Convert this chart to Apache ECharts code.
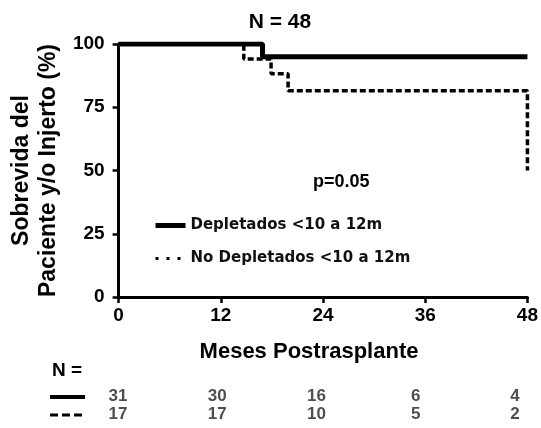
<!DOCTYPE html>
<html lang="es">
<head>
    <meta charset="UTF-8">
    <title>Sobrevida del Paciente y/o Injerto</title>
    <script src="https://cdn.jsdelivr.net/npm/echarts@6/dist/echarts.min.js"></script>
    <style>
        html, body, #main {
            width: 541px;
            height: 428px;
            padding: 0;
            margin: 0;
            background: #fff;
        }
    </style>
</head>
<body>
<div id="main"></div>
<script>
    // Kaplan-Meier steps: [months, % survival]
    var depletados = [[0, 100], [16.9, 100], [16.9, 95], [48, 95]];
    var noDepletados = [[0, 100], [14.7, 100], [14.7, 94.1], [17.9, 94.1], [17.9, 88.2],
        [19.9, 88.2], [19.9, 81.5], [48, 81.5], [48, 50]];

    var seriesNames = ["Depletados <10 a 12m", "No Depletados <10 a 12m"];
    var riskMonths = [0, 12, 24, 36, 48];
    var riskDepletados = [31, 30, 16, 6, 4];
    var riskNoDepletados = [17, 17, 10, 5, 2];

    var font = "Liberation Sans, Arial, sans-serif";

    var riskData = [];
    riskMonths.forEach(function (m, i) {
        riskData.push([m, 0, riskDepletados[i]]);
        riskData.push([m, 1, riskNoDepletados[i]]);
    });

    var myChart = echarts.init(document.getElementById("main"));
    myChart.setOption({
        animation: false,
        title: {
            text: "N = 48",
            left: 275,
            top: 7,
            textAlign: "center",
            textStyle: {fontFamily: font, fontSize: 21, fontWeight: "bold", color: "#000"}
        },
        legend: {
            orient: "vertical",
            left: 153,
            top: 218,
            padding: 0,
            itemWidth: 30,
            itemHeight: 14,
            itemGap: 18,
            textStyle: {fontFamily: "DejaVu Sans", fontSize: 15, fontWeight: "bold", color: "#111"},
            data: [{
                name: seriesNames[0],
                itemStyle: {opacity: 0},
                lineStyle: {width: 5, color: "#000", type: "solid"}
            }, {
                name: seriesNames[1],
                itemStyle: {opacity: 0},
                lineStyle: {width: 3, color: "#000", type: [3, 8]}
            }]
        },
        grid: [{
            left: 117, right: 13, top: 44, bottom: 131
        }, {
            left: 118, right: 26, top: 388, height: 35
        }],
        xAxis: [{
            type: "value",
            min: 0, max: 48, interval: 12,
            name: "Meses Postrasplante",
            nameLocation: "middle",
            nameGap: 44,
            nameTextStyle: {fontFamily: font, fontSize: 22, fontWeight: "bold", color: "#000", padding: [0, 28, 0, 0]},
            splitLine: {show: false},
            axisLine: {lineStyle: {color: "#000", width: 3}},
            axisTick: {length: 6, lineStyle: {width: 2.5}},
            axisLabel: {fontFamily: font, fontSize: 19, fontWeight: "bold", color: "#000", margin: 9}
        }, {
            gridIndex: 1,
            type: "value",
            min: 0, max: 48,
            show: false
        }],
        yAxis: [{
            type: "value",
            min: 0, max: 100, interval: 25,
            name: "Sobrevida del\nPaciente y/o Injerto (%)",
            nameLocation: "middle",
            nameRotate: 90,
            nameGap: 51,
            nameTextStyle: {fontFamily: font, fontSize: 23, fontWeight: "bold", color: "#000", lineHeight: 27},
            splitLine: {show: false},
            axisLine: {lineStyle: {color: "#000", width: 3}},
            axisTick: {length: 6, lineStyle: {width: 2.5}},
            axisLabel: {fontFamily: font, fontSize: 19, fontWeight: "bold", color: "#000", margin: 14}
        }, {
            gridIndex: 1,
            type: "category",
            data: seriesNames,
            inverse: true,
            show: false
        }],
        graphic: [{
            type: "text",
            left: 313,
            top: 173,
            style: {text: "p=0.05", fontFamily: font, fontSize: 18, fontWeight: "bold", fill: "#000"}
        }, {
            type: "text",
            left: 52,
            top: 361,
            style: {text: "N =", fontFamily: font, fontSize: 19, fontWeight: "bold", fill: "#000"}
        }, {
            type: "line",
            shape: {x1: 50, y1: 397, x2: 85, y2: 397},
            style: {stroke: "#000", lineWidth: 4}
        }, {
            type: "line",
            shape: {x1: 50, y1: 415, x2: 85, y2: 415},
            style: {stroke: "#000", lineWidth: 3, lineDash: [8, 4]}
        }],
        series: [{
            name: seriesNames[1],
            type: "line",
            data: noDepletados,
            symbol: "none",
            z: 2,
            itemStyle: {color: "#000"},
            lineStyle: {color: "#000", width: 3.5, type: [6, 3]}
        }, {
            name: seriesNames[0],
            type: "line",
            data: depletados,
            symbol: "none",
            z: 3,
            itemStyle: {color: "#000"},
            lineStyle: {color: "#000", width: 5, type: "solid"}
        }, {
            type: "scatter",
            xAxisIndex: 1,
            yAxisIndex: 1,
            data: riskData,
            symbolSize: 0,
            silent: true,
            label: {
                show: true,
                position: "inside",
                fontFamily: font,
                fontSize: 17,
                fontWeight: "bold",
                color: "#222",
                formatter: function (p) { return p.value[2]; }
            }
        }]
    });
</script>
</body>
</html>
